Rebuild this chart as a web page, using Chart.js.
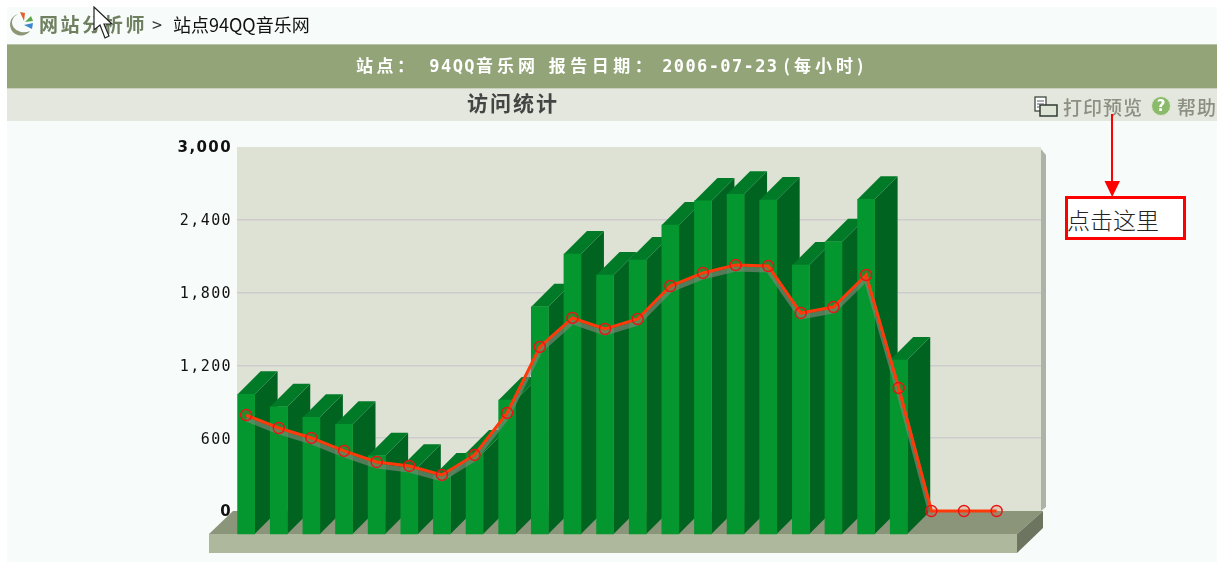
<!DOCTYPE html>
<html lang="zh-CN">

<head>
    <meta charset="UTF-8">
    <title>访问统计</title>
    <script src="https://cdn.jsdelivr.net/npm/chart.js"></script>
    <style>
        html, body { margin: 0; padding: 0; background: #fff; overflow: hidden; }
        body { width: 1228px; height: 563px; position: relative; font-family: "Noto Sans CJK SC", sans-serif; }
        .abs { position: absolute; white-space: nowrap; }
        #page { left: 7px; top: 7px; width: 1210px; height: 555px; background: #f7fbf9; }
        #bar1 { left: 7px; top: 44px; width: 1210px; height: 44px; background: #93a578; border-top: 1px solid #b9c4a6; box-sizing: border-box; }
        #bar2 { left: 7px; top: 88px; width: 1210px; height: 33px; background: #e3e7dd; border-top: 1px solid #c9d0bc; box-sizing: border-box; }
        #chart { left: 0; top: 0; }
        #box { left: 1065px; top: 196px; width: 121px; height: 44px; box-sizing: border-box; border: 3px solid #f00; background: #fff; }
        #report { left: 356px; top: 52px; font-size: 17px; line-height: 26px; font-weight: 700; color: #fff; white-space: pre; }
        #report span { letter-spacing: 4px; }
        #report .num { font-family: "DejaVu Sans Mono", monospace; letter-spacing: 1.4px; font-size: 17px; }
    </style>
</head>

<body>
    <div class="abs" id="page"></div>
    <div class="abs" id="bar1"></div>
    <div class="abs" id="bar2"></div>
    <canvas class="abs" id="chart" width="1228" height="563"></canvas>

    <!-- logo -->
    <svg class="abs" style="left:8px;top:11px" width="26" height="25" viewBox="0 0 26 25">
        <path d="M10 3 A11 11 0 1 0 22 20 A11 9 0 0 1 10 3 Z" fill="#8c9574" />
        <path d="M12 1 L17 2 L16 10 Z" fill="#e0602a" />
        <path d="M17 11 L23 5 L25 10 Z" fill="#5aa84a" />
        <path d="M16 14 L25 12 L24 18 Z" fill="#3c88d0" />
    </svg>
    <div class="abs" style="left:39px;top:11px;font-size:19px;line-height:26px;font-weight:700;color:#6f8060;letter-spacing:2.6px">网站分析师</div>
    <div class="abs" style="left:152px;top:11px;font-size:18px;line-height:26px;color:#333">&gt;</div>
    <div class="abs" style="left:173px;top:11px;font-size:18px;line-height:26px;color:#111">站点94QQ音乐网</div>
    <!-- mouse cursor -->
    <svg class="abs" style="left:92px;top:6px" width="22" height="36" viewBox="0 0 22 36">
        <path d="M2 1 L2 24 L8 19 L13 32 L17 30 L12 18 L20 18 Z" fill="#fff" stroke="#222" stroke-width="1.2" />
    </svg>

    <div class="abs" id="report"><span style="letter-spacing:3.5px">站点：</span> <span class="num" style="margin-left:8px">94QQ</span><span>音乐网</span> <span style="margin-left:6px;letter-spacing:4.5px">报告日期：</span> <span class="num" style="margin-left:2px">2006-07-23</span><span style="margin-left:5px">(每小时)</span></div>
    <div class="abs" style="left:467px;top:89px;font-size:21px;line-height:27px;font-weight:700;color:#444;letter-spacing:2px">访问统计</div>

    <!-- printer icon -->
    <svg class="abs" style="left:1034px;top:96px" width="25" height="23" viewBox="0 0 25 23">
        <rect x="1" y="1" width="11" height="14" fill="#fff" stroke="#3f4a40" stroke-width="1.3" />
        <rect x="6" y="9" width="17" height="11" fill="#dfe5d6" stroke="#2f3a30" stroke-width="1.5" />
        <path d="M3 5 H10 M3 8 H10 M3 11 H6" stroke="#556" />
    </svg>
    <div class="abs" style="left:1063px;top:93px;font-size:19px;line-height:27px;font-weight:500;color:#8b9083;letter-spacing:1px">打印预览</div>
    <svg class="abs" style="left:1151px;top:96px" width="20" height="20" viewBox="0 0 20 20">
        <circle cx="10" cy="10" r="9.5" fill="#8cba6c" stroke="#dfe8d2" />
        <text x="10" y="15" text-anchor="middle" font-size="15" font-weight="700" fill="#fff" font-family="DejaVu Sans">?</text>
    </svg>
    <div class="abs" style="left:1177px;top:93px;width:40px;overflow:hidden;font-size:19px;line-height:27px;font-weight:500;color:#8b9083;letter-spacing:1px">帮助</div>

    <!-- annotation -->
    <svg class="abs" style="left:1100px;top:110px" width="26" height="90" viewBox="0 0 26 90">
        <path d="M12 4 V74" stroke="#f00" stroke-width="2" />
        <path d="M4.5 71 H20 L12.2 87 Z" fill="#f00" />
    </svg>
    <div class="abs" id="box"></div>
    <div class="abs" style="left:1067px;top:204px;font-size:23px;line-height:30px;color:#222;font-weight:300">点击这里</div>

    <script>
        // Horas do relatório (0-23)
        const hours = [0, 1, 2, 3, 4, 5, 6, 7, 8, 9, 10, 11, 12, 13, 14, 15, 16, 17, 18, 19, 20, 21, 22, 23];

        // Valores
        const barValues = [1151, 1049, 962, 904, 645, 550, 478, 668, 1104, 1873, 2308, 2135, 2258, 2547, 2745, 2800, 2753, 2217, 2409, 2759, 1434, 0, 0, 0];
        const lineValues = [791, 684, 602, 495, 404, 371, 297, 462, 808, 1352, 1591, 1500, 1582, 1854, 1962, 2027, 2019, 1632, 1681, 1945, 1014, 0, 0, 0];
        const tickValues = [0, 600, 1200, 1800, 2400, 3000];

        const DEPTH = 23;      // deslocamento 3D em pixels
        const FLOOR_H = 19;    // altura da face frontal do piso

        function quad(ctx, pts, color) {
            ctx.fillStyle = color;
            ctx.beginPath();
            pts.forEach((p, i) => (i ? ctx.lineTo(p[0], p[1]) : ctx.moveTo(p[0], p[1])));
            ctx.closePath();
            ctx.fill();
        }

        // Parede de fundo e sombra, atrás das linhas de grade
        const wallPlugin = {
            id: 'wall',
            beforeDraw(chart) {
                const { ctx, chartArea: a } = chart;
                ctx.letterSpacing = '1.4px';
                quad(ctx, [[a.right, a.top + 2], [a.right + 5, a.top + 8], [a.right + 5, a.bottom - 4], [a.right, a.bottom]], '#aeb4a5');
                ctx.fillStyle = '#dde2d4';
                ctx.fillRect(a.left, a.top, a.width, a.height);
            },
            // Piso e faces laterais/superiores das barras
            beforeDatasetsDraw(chart) {
                const { ctx, chartArea: a } = chart;
                const frontL = a.left - 28, frontR = a.right - 24, backL = a.left - 4, backR = a.right + 2;
                const fy = a.bottom + DEPTH;
                quad(ctx, [[frontL, fy], [backL, a.bottom], [backR, a.bottom], [frontR, fy]], '#8b957a');
                quad(ctx, [[frontR, fy], [backR, a.bottom], [backR, a.bottom + 17], [frontR, fy + FLOOR_H]], '#6d7560');
                ctx.fillStyle = '#adb89c';
                ctx.fillRect(frontL, fy, frontR - frontL, FLOOR_H);

                const meta = chart.getDatasetMeta(2);
                meta.data.forEach((bar, i) => {
                    if (!barValues[i]) return;
                    const l = bar.x - bar.width / 2, r = bar.x + bar.width / 2;
                    quad(ctx, [[r, bar.y], [r + DEPTH, bar.y - DEPTH], [r + DEPTH, bar.base - DEPTH], [r, bar.base]], '#006420');
                    quad(ctx, [[l, bar.y], [l + DEPTH, bar.y - DEPTH], [r + DEPTH, bar.y - DEPTH], [r, bar.y]], '#017a28');
                });
            }
        };

        const ctx = document.getElementById('chart').getContext('2d');

        new Chart(ctx, {
            data: {
                datasets: [{
                    type: 'line',
                    order: 1,
                    data: hours.map((h, i) => ({ x: h, y: lineValues[i] })),
                    yAxisID: 'y',
                    borderColor: '#ff3a0a',
                    borderWidth: 3,
                    tension: 0,
                    pointRadius: 5.5,
                    pointBorderWidth: 1.4,
                    pointBorderColor: '#e81414',
                    pointBackgroundColor: 'rgba(255, 60, 20, 0.15)',
                    clip: false
                }, {
                    // sombra da linha
                    type: 'line',
                    order: 2,
                    data: hours.slice(0, 22).map((h, i) => ({ x: h, y: lineValues[i] })),
                    yAxisID: 'yShadow',
                    borderColor: 'rgba(125, 135, 120, 0.65)',
                    borderWidth: 5,
                    tension: 0,
                    pointRadius: 0,
                    clip: false
                }, {
                    type: 'bar',
                    order: 3,
                    data: hours.map((h, i) => ({ x: h, y: barValues[i] ? [0, barValues[i]] : null })),
                    yAxisID: 'yFront',
                    backgroundColor: '#04972f',
                    barThickness: 17,
                    clip: false
                }]
            },
            options: {
                responsive: false,
                animation: false,
                layout: { padding: { left: 170, top: 147, right: 187, bottom: 52 } },
                plugins: { legend: { display: false }, tooltip: { enabled: false } },
                scales: {
                    x: { type: 'linear', offset: false, min: -0.28, max: 24.36, display: false, grid: { offset: false } },
                    y: {
                        min: 0,
                        max: 3000,
                        afterFit(scale) { scale.width = 67; },
                        afterBuildTicks(scale) { scale.ticks = tickValues.map(v => ({ value: v })); },
                        border: { display: false },
                        grid: {
                            // sem linha no topo nem na base da parede
                            color: (c) => (c.tick && (c.tick.value === 0 || c.tick.value === 3000)) ? 'transparent' : '#cdcbcc',
                            lineWidth: 1.5,
                            drawTicks: false
                        },
                        ticks: {
                            padding: 5,
                            labelOffset: 1.5,
                            color: '#111',
                            font: (c) => {
                                const bold = c.tick && (c.tick.value === 0 || c.tick.value === 3000);
                                return { family: bold ? '"DejaVu Sans"' : '"DejaVu Sans Mono"', size: 15, weight: bold ? 'bold' : 'normal' };
                            },
                            callback: (v) => v.toLocaleString('en-US')
                        }
                    },
                    // mesmo comprimento, deslocado DEPTH px para baixo: face frontal das barras
                    yFront: { display: false, min: 189.6, max: 3189.6 },
                    yShadow: { display: false, min: 33, max: 3033 }
                }
            },
            plugins: [wallPlugin]
        });
    </script>
</body>

</html>
